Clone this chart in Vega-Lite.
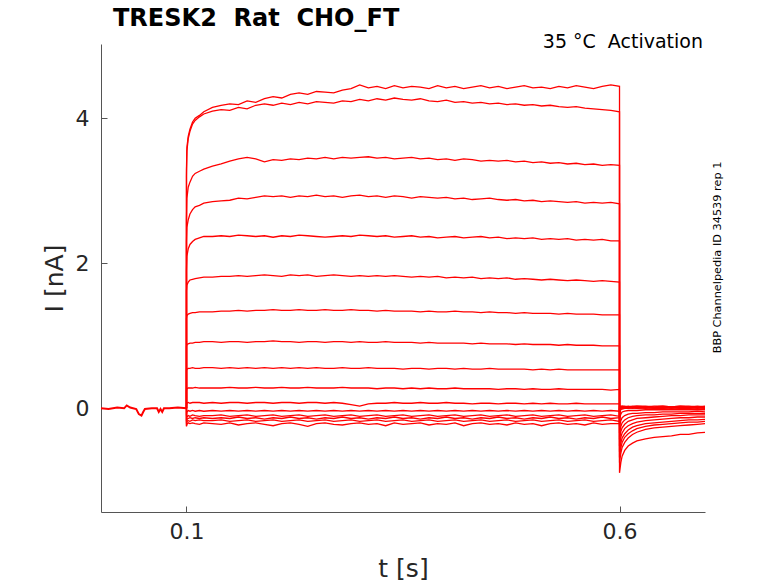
{
  "$schema": "https://vega.github.io/schema/vega-lite/v6.json",
  "width": 604,
  "height": 468,
  "autosize": "none",
  "padding": {"left": 101, "top": 44, "right": 73, "bottom": 71},
  "background": "white",
  "datasets": {
    "base": [
      {"t": 0.0013, "I": 0.0}, {"t": 0.01, "I": -0.01}, {"t": 0.02, "I": 0.01},
      {"t": 0.028, "I": 0.0}, {"t": 0.031, "I": 0.04}, {"t": 0.035, "I": 0.01},
      {"t": 0.042, "I": -0.01}, {"t": 0.045, "I": -0.08}, {"t": 0.048, "I": -0.1},
      {"t": 0.05, "I": -0.05}, {"t": 0.052, "I": -0.01}, {"t": 0.06, "I": 0.0},
      {"t": 0.066, "I": 0.0}, {"t": 0.068, "I": -0.05}, {"t": 0.07, "I": -0.01},
      {"t": 0.072, "I": -0.05}, {"t": 0.074, "I": 0.0}, {"t": 0.08, "I": 0.0},
      {"t": 0.09, "I": 0.01}, {"t": 0.1, "I": 0.0}
    ],
    "sweeps": [
      {"n":1,"t":0.1,"a":0,"b":0,"c":0,"d":0,"e":0,"f":0,"g":0,"h":0,"i":0,"j":0,"k":0,"l":0,"m":0,"o":0,"p":0,"q":0},
      {"n":2,"t":0.1,"a":3.3,"b":3.2,"c":2.6,"d":2.3,"e":1.9,"f":1.62,"g":1.24,"h":0.85,"i":0.52,"j":0.24,"k":0.04,"l":-0.1,"m":-0.18,"o":-0.21,"p":-0.24,"q":-0.25},
      {"n":3,"t":0.1005,"a":3.6,"b":3.55,"c":2.9,"d":2.5,"e":2.1,"f":1.7,"g":1.28,"h":0.88,"i":0.54,"j":0.27,"k":0.07,"l":-0.05,"m":-0.12,"o":-0.15,"p":-0.18,"q":-0.22},
      {"n":4,"t":0.102,"a":3.75,"b":3.72,"c":3.05,"d":2.6,"e":2.2,"f":1.74,"g":1.3,"h":0.89,"i":0.55,"j":0.28,"k":0.08,"l":-0.03,"m":-0.1,"o":-0.14,"p":-0.17,"q":-0.2},
      {"n":5,"t":0.104,"a":3.85,"b":3.82,"c":3.12,"d":2.68,"e":2.26,"f":1.77,"g":1.31,"h":0.9,"i":0.55,"j":0.28,"k":0.07,"l":-0.04,"m":-0.11,"o":-0.13,"p":-0.18,"q":-0.21},
      {"n":6,"t":0.107,"a":3.95,"b":3.92,"c":3.2,"d":2.74,"e":2.3,"f":1.78,"g":1.32,"h":0.9,"i":0.56,"j":0.28,"k":0.08,"l":-0.03,"m":-0.09,"o":-0.14,"p":-0.16,"q":-0.2},
      {"n":7,"t":0.11,"a":4.0,"b":3.97,"c":3.24,"d":2.78,"e":2.33,"f":1.79,"g":1.32,"h":0.91,"i":0.55,"j":0.29,"k":0.08,"l":-0.04,"m":-0.1,"o":-0.13,"p":-0.17,"q":-0.21},
      {"n":8,"t":0.115,"a":4.04,"b":4.02,"c":3.27,"d":2.8,"e":2.35,"f":1.8,"g":1.33,"h":0.91,"i":0.55,"j":0.28,"k":0.08,"l":-0.03,"m":-0.11,"o":-0.14,"p":-0.16,"q":-0.22},
      {"n":9,"t":0.12,"a":4.09,"b":4.06,"c":3.3,"d":2.83,"e":2.37,"f":1.81,"g":1.33,"h":0.92,"i":0.56,"j":0.28,"k":0.07,"l":-0.04,"m":-0.1,"o":-0.13,"p":-0.17,"q":-0.2},
      {"n":10,"t":0.13,"a":4.15,"b":4.10,"c":3.34,"d":2.85,"e":2.37,"f":1.81,"g":1.33,"h":0.92,"i":0.56,"j":0.28,"k":0.08,"l":-0.03,"m":-0.10,"o":-0.14,"p":-0.17,"q":-0.21},
      {"n":11,"t":0.14,"a":4.18,"b":4.12,"c":3.37,"d":2.86,"e":2.38,"f":1.82,"g":1.34,"h":0.91,"i":0.55,"j":0.28,"k":0.07,"l":-0.04,"m":-0.09,"o":-0.13,"p":-0.16,"q":-0.22},
      {"n":12,"t":0.15,"a":4.20,"b":4.11,"c":3.41,"d":2.87,"e":2.37,"f":1.82,"g":1.34,"h":0.92,"i":0.56,"j":0.29,"k":0.08,"l":-0.03,"m":-0.11,"o":-0.14,"p":-0.18,"q":-0.20},
      {"n":13,"t":0.16,"a":4.19,"b":4.15,"c":3.44,"d":2.90,"e":2.39,"f":1.83,"g":1.35,"h":0.92,"i":0.55,"j":0.28,"k":0.08,"l":-0.04,"m":-0.10,"o":-0.12,"p":-0.17,"q":-0.23},
      {"n":14,"t":0.17,"a":4.24,"b":4.13,"c":3.46,"d":2.89,"e":2.38,"f":1.82,"g":1.34,"h":0.91,"i":0.56,"j":0.28,"k":0.07,"l":-0.03,"m":-0.09,"o":-0.14,"p":-0.16,"q":-0.21},
      {"n":15,"t":0.18,"a":4.22,"b":4.18,"c":3.44,"d":2.91,"e":2.37,"f":1.83,"g":1.35,"h":0.92,"i":0.55,"j":0.29,"k":0.08,"l":-0.04,"m":-0.11,"o":-0.13,"p":-0.18,"q":-0.20},
      {"n":16,"t":0.19,"a":4.27,"b":4.20,"c":3.40,"d":2.93,"e":2.38,"f":1.84,"g":1.35,"h":0.92,"i":0.56,"j":0.28,"k":0.08,"l":-0.03,"m":-0.10,"o":-0.15,"p":-0.17,"q":-0.22},
      {"n":17,"t":0.20,"a":4.30,"b":4.18,"c":3.43,"d":2.92,"e":2.36,"f":1.83,"g":1.36,"h":0.93,"i":0.55,"j":0.28,"k":0.07,"l":-0.04,"m":-0.09,"o":-0.13,"p":-0.16,"q":-0.24},
      {"n":18,"t":0.21,"a":4.28,"b":4.21,"c":3.42,"d":2.93,"e":2.38,"f":1.82,"g":1.35,"h":0.92,"i":0.56,"j":0.29,"k":0.08,"l":-0.03,"m":-0.11,"o":-0.14,"p":-0.18,"q":-0.21},
      {"n":19,"t":0.22,"a":4.33,"b":4.19,"c":3.44,"d":2.91,"e":2.37,"f":1.84,"g":1.35,"h":0.92,"i":0.55,"j":0.28,"k":0.08,"l":-0.04,"m":-0.10,"o":-0.12,"p":-0.17,"q":-0.20},
      {"n":20,"t":0.23,"a":4.35,"b":4.22,"c":3.43,"d":2.93,"e":2.39,"f":1.83,"g":1.36,"h":0.91,"i":0.56,"j":0.28,"k":0.07,"l":-0.03,"m":-0.09,"o":-0.14,"p":-0.16,"q":-0.22},
      {"n":21,"t":0.24,"a":4.33,"b":4.20,"c":3.45,"d":2.92,"e":2.38,"f":1.84,"g":1.35,"h":0.92,"i":0.55,"j":0.29,"k":0.08,"l":-0.04,"m":-0.11,"o":-0.13,"p":-0.18,"q":-0.25},
      {"n":22,"t":0.25,"a":4.37,"b":4.23,"c":3.44,"d":2.94,"e":2.37,"f":1.82,"g":1.35,"h":0.92,"i":0.56,"j":0.28,"k":0.08,"l":-0.03,"m":-0.10,"o":-0.15,"p":-0.17,"q":-0.21},
      {"n":23,"t":0.26,"a":4.36,"b":4.22,"c":3.46,"d":2.92,"e":2.36,"f":1.83,"g":1.36,"h":0.91,"i":0.55,"j":0.28,"k":0.07,"l":-0.04,"m":-0.09,"o":-0.13,"p":-0.16,"q":-0.20},
      {"n":24,"t":0.27,"a":4.35,"b":4.21,"c":3.44,"d":2.93,"e":2.37,"f":1.84,"g":1.35,"h":0.92,"i":0.55,"j":0.28,"k":0.08,"l":-0.03,"m":-0.11,"o":-0.14,"p":-0.18,"q":-0.22},
      {"n":25,"t":0.28,"a":4.39,"b":4.24,"c":3.46,"d":2.91,"e":2.38,"f":1.83,"g":1.35,"h":0.92,"i":0.56,"j":0.29,"k":0.07,"l":-0.04,"m":-0.10,"o":-0.12,"p":-0.17,"q":-0.23},
      {"n":26,"t":0.29,"a":4.41,"b":4.23,"c":3.45,"d":2.93,"e":2.37,"f":1.82,"g":1.36,"h":0.91,"i":0.55,"j":0.28,"k":0.05,"l":-0.03,"m":-0.09,"o":-0.14,"p":-0.16,"q":-0.21},
      {"n":27,"t":0.30,"a":4.46,"b":4.26,"c":3.46,"d":2.94,"e":2.39,"f":1.83,"g":1.35,"h":0.92,"i":0.55,"j":0.28,"k":0.03,"l":-0.04,"m":-0.11,"o":-0.13,"p":-0.18,"q":-0.20},
      {"n":28,"t":0.31,"a":4.42,"b":4.24,"c":3.47,"d":2.92,"e":2.38,"f":1.82,"g":1.35,"h":0.91,"i":0.56,"j":0.28,"k":0.06,"l":-0.03,"m":-0.10,"o":-0.15,"p":-0.17,"q":-0.22},
      {"n":29,"t":0.32,"a":4.44,"b":4.27,"c":3.45,"d":2.93,"e":2.37,"f":1.83,"g":1.34,"h":0.91,"i":0.55,"j":0.27,"k":0.07,"l":-0.04,"m":-0.09,"o":-0.13,"p":-0.16,"q":-0.21},
      {"n":30,"t":0.33,"a":4.41,"b":4.25,"c":3.46,"d":2.91,"e":2.38,"f":1.82,"g":1.35,"h":0.92,"i":0.55,"j":0.28,"k":0.07,"l":-0.03,"m":-0.11,"o":-0.14,"p":-0.18,"q":-0.24},
      {"n":31,"t":0.34,"a":4.45,"b":4.28,"c":3.44,"d":2.93,"e":2.36,"f":1.83,"g":1.34,"h":0.91,"i":0.55,"j":0.28,"k":0.08,"l":-0.04,"m":-0.10,"o":-0.12,"p":-0.17,"q":-0.20},
      {"n":32,"t":0.35,"a":4.42,"b":4.26,"c":3.45,"d":2.92,"e":2.37,"f":1.82,"g":1.34,"h":0.91,"i":0.54,"j":0.27,"k":0.07,"l":-0.03,"m":-0.09,"o":-0.14,"p":-0.16,"q":-0.22},
      {"n":33,"t":0.36,"a":4.44,"b":4.25,"c":3.46,"d":2.90,"e":2.38,"f":1.81,"g":1.34,"h":0.91,"i":0.55,"j":0.28,"k":0.07,"l":-0.04,"m":-0.11,"o":-0.13,"p":-0.18,"q":-0.21},
      {"n":34,"t":0.37,"a":4.43,"b":4.27,"c":3.44,"d":2.92,"e":2.36,"f":1.82,"g":1.33,"h":0.90,"i":0.55,"j":0.27,"k":0.08,"l":-0.03,"m":-0.10,"o":-0.15,"p":-0.17,"q":-0.20},
      {"n":35,"t":0.38,"a":4.41,"b":4.24,"c":3.45,"d":2.91,"e":2.37,"f":1.81,"g":1.34,"h":0.91,"i":0.54,"j":0.28,"k":0.07,"l":-0.04,"m":-0.09,"o":-0.13,"p":-0.16,"q":-0.23},
      {"n":36,"t":0.39,"a":4.45,"b":4.23,"c":3.43,"d":2.90,"e":2.35,"f":1.82,"g":1.33,"h":0.90,"i":0.55,"j":0.27,"k":0.07,"l":-0.03,"m":-0.11,"o":-0.14,"p":-0.18,"q":-0.21},
      {"n":37,"t":0.40,"a":4.42,"b":4.25,"c":3.44,"d":2.91,"e":2.36,"f":1.80,"g":1.33,"h":0.90,"i":0.55,"j":0.27,"k":0.08,"l":-0.04,"m":-0.10,"o":-0.12,"p":-0.17,"q":-0.22},
      {"n":38,"t":0.41,"a":4.44,"b":4.22,"c":3.42,"d":2.89,"e":2.37,"f":1.81,"g":1.34,"h":0.90,"i":0.54,"j":0.28,"k":0.07,"l":-0.03,"m":-0.09,"o":-0.14,"p":-0.16,"q":-0.20},
      {"n":39,"t":0.42,"a":4.41,"b":4.23,"c":3.44,"d":2.90,"e":2.35,"f":1.80,"g":1.33,"h":0.90,"i":0.55,"j":0.27,"k":0.07,"l":-0.04,"m":-0.11,"o":-0.13,"p":-0.18,"q":-0.24},
      {"n":40,"t":0.43,"a":4.43,"b":4.21,"c":3.43,"d":2.88,"e":2.36,"f":1.81,"g":1.33,"h":0.89,"i":0.54,"j":0.27,"k":0.06,"l":-0.03,"m":-0.10,"o":-0.15,"p":-0.17,"q":-0.21},
      {"n":41,"t":0.44,"a":4.45,"b":4.22,"c":3.41,"d":2.89,"e":2.37,"f":1.79,"g":1.32,"h":0.90,"i":0.54,"j":0.27,"k":0.07,"l":-0.04,"m":-0.09,"o":-0.13,"p":-0.16,"q":-0.20},
      {"n":42,"t":0.45,"a":4.42,"b":4.20,"c":3.42,"d":2.90,"e":2.35,"f":1.80,"g":1.33,"h":0.89,"i":0.55,"j":0.27,"k":0.07,"l":-0.03,"m":-0.11,"o":-0.14,"p":-0.18,"q":-0.22},
      {"n":43,"t":0.46,"a":4.44,"b":4.21,"c":3.41,"d":2.88,"e":2.36,"f":1.79,"g":1.32,"h":0.89,"i":0.54,"j":0.26,"k":0.06,"l":-0.04,"m":-0.10,"o":-0.12,"p":-0.17,"q":-0.21},
      {"n":44,"t":0.47,"a":4.41,"b":4.19,"c":3.42,"d":2.87,"e":2.34,"f":1.80,"g":1.32,"h":0.89,"i":0.54,"j":0.27,"k":0.07,"l":-0.03,"m":-0.09,"o":-0.14,"p":-0.16,"q":-0.23},
      {"n":45,"t":0.48,"a":4.43,"b":4.20,"c":3.40,"d":2.88,"e":2.35,"f":1.78,"g":1.31,"h":0.88,"i":0.54,"j":0.27,"k":0.07,"l":-0.04,"m":-0.11,"o":-0.13,"p":-0.18,"q":-0.20},
      {"n":46,"t":0.49,"a":4.45,"b":4.18,"c":3.41,"d":2.86,"e":2.34,"f":1.79,"g":1.32,"h":0.89,"i":0.54,"j":0.26,"k":0.06,"l":-0.03,"m":-0.10,"o":-0.15,"p":-0.17,"q":-0.22},
      {"n":47,"t":0.50,"a":4.42,"b":4.19,"c":3.39,"d":2.87,"e":2.35,"f":1.78,"g":1.31,"h":0.88,"i":0.53,"j":0.27,"k":0.07,"l":-0.04,"m":-0.09,"o":-0.13,"p":-0.16,"q":-0.21},
      {"n":48,"t":0.51,"a":4.43,"b":4.17,"c":3.40,"d":2.85,"e":2.33,"f":1.77,"g":1.31,"h":0.88,"i":0.54,"j":0.26,"k":0.06,"l":-0.03,"m":-0.11,"o":-0.14,"p":-0.18,"q":-0.24},
      {"n":49,"t":0.52,"a":4.41,"b":4.18,"c":3.38,"d":2.86,"e":2.34,"f":1.78,"g":1.31,"h":0.88,"i":0.53,"j":0.26,"k":0.07,"l":-0.04,"m":-0.10,"o":-0.12,"p":-0.17,"q":-0.21},
      {"n":50,"t":0.53,"a":4.44,"b":4.16,"c":3.39,"d":2.85,"e":2.33,"f":1.77,"g":1.30,"h":0.87,"i":0.54,"j":0.27,"k":0.06,"l":-0.03,"m":-0.09,"o":-0.14,"p":-0.16,"q":-0.20},
      {"n":51,"t":0.54,"a":4.42,"b":4.15,"c":3.37,"d":2.84,"e":2.34,"f":1.76,"g":1.31,"h":0.88,"i":0.53,"j":0.26,"k":0.06,"l":-0.04,"m":-0.11,"o":-0.13,"p":-0.18,"q":-0.22},
      {"n":52,"t":0.55,"a":4.45,"b":4.16,"c":3.38,"d":2.85,"e":2.32,"f":1.77,"g":1.30,"h":0.87,"i":0.53,"j":0.26,"k":0.07,"l":-0.03,"m":-0.10,"o":-0.15,"p":-0.17,"q":-0.21},
      {"n":53,"t":0.56,"a":4.43,"b":4.14,"c":3.36,"d":2.83,"e":2.33,"f":1.76,"g":1.30,"h":0.87,"i":0.53,"j":0.26,"k":0.06,"l":-0.04,"m":-0.09,"o":-0.13,"p":-0.16,"q":-0.23},
      {"n":54,"t":0.57,"a":4.41,"b":4.13,"c":3.37,"d":2.84,"e":2.32,"f":1.75,"g":1.30,"h":0.87,"i":0.53,"j":0.26,"k":0.06,"l":-0.03,"m":-0.11,"o":-0.14,"p":-0.18,"q":-0.20},
      {"n":55,"t":0.58,"a":4.44,"b":4.12,"c":3.35,"d":2.83,"e":2.33,"f":1.76,"g":1.29,"h":0.86,"i":0.53,"j":0.26,"k":0.06,"l":-0.04,"m":-0.10,"o":-0.12,"p":-0.17,"q":-0.22},
      {"n":56,"t":0.59,"a":4.46,"b":4.11,"c":3.36,"d":2.84,"e":2.31,"f":1.75,"g":1.29,"h":0.86,"i":0.53,"j":0.25,"k":0.06,"l":-0.03,"m":-0.09,"o":-0.14,"p":-0.16,"q":-0.21},
      {"n":57,"t":0.60,"a":4.44,"b":4.09,"c":3.35,"d":2.82,"e":2.31,"f":1.74,"g":1.29,"h":0.86,"i":0.53,"j":0.26,"k":0.06,"l":-0.04,"m":-0.11,"o":-0.13,"p":-0.18,"q":-0.21},
      {"n":58,"t":0.60,"a":-0.89,"b":-0.75,"c":-0.68,"d":-0.6,"e":-0.52,"f":-0.43,"g":-0.34,"h":-0.25,"i":-0.15,"j":-0.06,"k":0.03,"l":0.02,"m":0.0,"o":0.01,"p":-0.01,"q":0.02},
      {"n":59,"t":0.6015,"a":-0.75,"b":-0.62,"c":-0.55,"d":-0.48,"e":-0.40,"f":-0.32,"g":-0.25,"h":-0.17,"i":-0.08,"j":-0.02,"k":0.03,"l":0.02,"m":0.01,"o":0.01,"p":0.0,"q":0.02},
      {"n":60,"t":0.603,"a":-0.66,"b":-0.54,"c":-0.47,"d":-0.41,"e":-0.34,"f":-0.27,"g":-0.20,"h":-0.13,"i":-0.05,"j":-0.01,"k":0.03,"l":0.02,"m":0.01,"o":0.0,"p":0.01,"q":0.03},
      {"n":61,"t":0.606,"a":-0.58,"b":-0.47,"c":-0.40,"d":-0.35,"e":-0.28,"f":-0.22,"g":-0.16,"h":-0.10,"i":-0.04,"j":0.0,"k":0.03,"l":0.01,"m":0.02,"o":0.0,"p":0.01,"q":0.02},
      {"n":62,"t":0.61,"a":-0.52,"b":-0.41,"c":-0.35,"d":-0.30,"e":-0.24,"f":-0.18,"g":-0.13,"h":-0.08,"i":-0.03,"j":0.0,"k":0.02,"l":0.02,"m":0.01,"o":0.01,"p":0.0,"q":0.03},
      {"n":63,"t":0.615,"a":-0.48,"b":-0.36,"c":-0.31,"d":-0.26,"e":-0.21,"f":-0.16,"g":-0.11,"h":-0.07,"i":-0.03,"j":0.01,"k":0.03,"l":0.01,"m":0.02,"o":0.0,"p":0.01,"q":0.02},
      {"n":64,"t":0.62,"a":-0.45,"b":-0.33,"c":-0.28,"d":-0.24,"e":-0.19,"f":-0.14,"g":-0.10,"h":-0.07,"i":-0.03,"j":0.0,"k":0.03,"l":0.02,"m":0.01,"o":0.01,"p":0.0,"q":0.03},
      {"n":65,"t":0.63,"a":-0.42,"b":-0.29,"c":-0.25,"d":-0.21,"e":-0.17,"f":-0.13,"g":-0.09,"h":-0.06,"i":-0.02,"j":0.01,"k":0.02,"l":0.02,"m":0.02,"o":0.0,"p":0.01,"q":0.03},
      {"n":66,"t":0.64,"a":-0.40,"b":-0.27,"c":-0.23,"d":-0.20,"e":-0.16,"f":-0.12,"g":-0.09,"h":-0.06,"i":-0.02,"j":0.0,"k":0.03,"l":0.01,"m":0.01,"o":0.01,"p":0.0,"q":0.02},
      {"n":67,"t":0.65,"a":-0.39,"b":-0.26,"c":-0.22,"d":-0.19,"e":-0.15,"f":-0.11,"g":-0.08,"h":-0.05,"i":-0.02,"j":0.0,"k":0.03,"l":0.02,"m":0.02,"o":0.0,"p":0.01,"q":0.03},
      {"n":68,"t":0.66,"a":-0.38,"b":-0.25,"c":-0.21,"d":-0.18,"e":-0.14,"f":-0.10,"g":-0.08,"h":-0.05,"i":-0.02,"j":0.01,"k":0.02,"l":0.02,"m":0.01,"o":0.01,"p":0.0,"q":0.02},
      {"n":69,"t":0.67,"a":-0.36,"b":-0.24,"c":-0.20,"d":-0.17,"e":-0.13,"f":-0.10,"g":-0.07,"h":-0.05,"i":-0.02,"j":0.0,"k":0.03,"l":0.01,"m":0.02,"o":0.0,"p":0.01,"q":0.03},
      {"n":70,"t":0.68,"a":-0.36,"b":-0.23,"c":-0.19,"d":-0.16,"e":-0.13,"f":-0.09,"g":-0.07,"h":-0.05,"i":-0.02,"j":0.0,"k":0.03,"l":0.02,"m":0.01,"o":0.01,"p":0.0,"q":0.02},
      {"n":71,"t":0.69,"a":-0.34,"b":-0.22,"c":-0.19,"d":-0.16,"e":-0.12,"f":-0.09,"g":-0.07,"h":-0.04,"i":-0.02,"j":0.01,"k":0.02,"l":0.02,"m":0.02,"o":0.0,"p":0.01,"q":0.03},
      {"n":72,"t":0.70,"a":-0.33,"b":-0.21,"c":-0.18,"d":-0.15,"e":-0.12,"f":-0.09,"g":-0.07,"h":-0.05,"i":-0.02,"j":0.0,"k":0.03,"l":0.01,"m":0.01,"o":0.01,"p":0.0,"q":0.02}
    ]
  },
  "layer": [
    {
      "data": {"name": "base"},
      "mark": {"type": "line", "color": "#ff0000", "strokeWidth": 2, "clip": true},
      "encoding": {
        "x": {"field": "t", "type": "quantitative", "title": "t [s]",
              "scale": {"domain": [0.0013, 0.6987], "nice": false, "zero": false},
              "axis": {"values": [0.1, 0.6], "format": ".1f", "labelPadding": 15, "titlePadding": 14}},
        "y": {"field": "I", "type": "quantitative", "title": "I [nA]",
              "scale": {"domain": [-1.43, 5.025], "nice": false, "zero": false},
              "axis": {"values": [0, 2, 4], "format": "d", "labelPadding": 18, "titlePadding": 8}}
      }
    },
    {
      "data": {"name": "sweeps"},
      "transform": [
        {"fold": ["a","b","c","d","e","f","g","h","i","j","k","l","m","o","p","q"], "as": ["sweep", "I"]}
      ],
      "mark": {"type": "line", "color": "#ff0000", "strokeWidth": 1.3, "clip": true},
      "encoding": {
        "x": {"field": "t", "type": "quantitative", "title": "t [s]"},
        "y": {"field": "I", "type": "quantitative", "title": "I [nA]"},
        "detail": {"field": "sweep"},
        "order": {"field": "n", "type": "quantitative"}
      }
    },
    {
      "data": {"values": [{"label": "TRESK2\u00a0 Rat\u00a0 CHO_FT"}]},
      "mark": {"type": "text", "align": "left", "baseline": "alphabetic", "dx": 12, "dy": -18,
               "font": "DejaVu Sans", "fontSize": 24, "fontWeight": "bold", "color": "black"},
      "encoding": {
        "x": {"datum": 0.0013, "type": "quantitative", "title": "t [s]"},
        "y": {"datum": 5.025, "type": "quantitative", "title": "I [nA]"},
        "text": {"field": "label"}
      }
    },
    {
      "data": {"values": [{"label": "35 °C\u00a0 Activation"}]},
      "mark": {"type": "text", "align": "right", "baseline": "alphabetic", "dx": -2, "dy": 4,
               "font": "DejaVu Sans", "fontSize": 19, "color": "black"},
      "encoding": {
        "x": {"datum": 0.6987, "type": "quantitative", "title": "t [s]"},
        "y": {"datum": 5.025, "type": "quantitative", "title": "I [nA]"},
        "text": {"field": "label"}
      }
    },
    {
      "data": {"values": [{"label": "BBP Channelpedia ID 34539 rep 1"}]},
      "mark": {"type": "text", "align": "center", "baseline": "alphabetic", "angle": 270, "dy": 15.5,
               "font": "DejaVu Sans", "fontSize": 11.3, "color": "black"},
      "encoding": {
        "x": {"datum": 0.6987, "type": "quantitative", "title": "t [s]"},
        "y": {"datum": 2.08, "type": "quantitative", "title": "I [nA]"},
        "text": {"field": "label"}
      }
    }
  ],
  "config": {
    "view": {"stroke": null},
    "axis": {
      "grid": false,
      "domainColor": "#555555",
      "tickColor": "#555555",
      "tickSize": -6,
      "labelColor": "#262626",
      "titleColor": "#262626",
      "labelFont": "DejaVu Sans",
      "titleFont": "DejaVu Sans",
      "labelFontSize": 22,
      "titleFontSize": 25,
      "titleFontWeight": "normal"
    }
  }
}
